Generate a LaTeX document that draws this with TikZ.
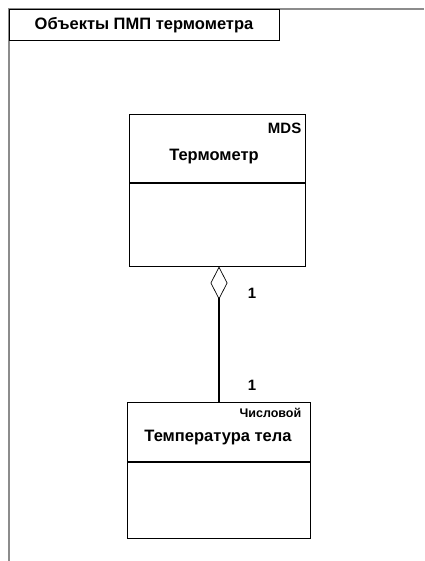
\documentclass[tikz,border=0pt]{standalone}
\usepackage{fontspec}
\setmainfont{Liberation Sans}
\usetikzlibrary{positioning,arrows.meta}
\definecolor{cFrame}{HTML}{8C8C8C}
\tikzset{
  clshead/.style={draw, line width=1pt, minimum width=176pt, inner sep=0pt},
  clsbody/.style={draw, line width=1pt, minimum width=176pt, inner sep=0pt},
  nm/.style={font=\bfseries\fontsize{16.5}{18}\selectfont, inner sep=0pt},
  stereo/.style={font=\bfseries\fontsize{12.5}{14}\selectfont, inner sep=0pt},
  mult/.style={font=\bfseries\fontsize{15}{17}\selectfont, inner sep=0pt},
  agg/.style={{Diamond[open, length=33pt, width=17pt, line width=0.7pt]}-, line width=1.8pt},
}
\begin{document}
\begin{tikzpicture}[x=1pt, y=-1pt]
    \useasboundingbox (0,0) rectangle (424,561);
    % --- frame ---
    \coordinate (fl) at (9,9);
    \coordinate (fr) at (424,9);
    \coordinate (fb) at (9,561);
    \draw[cFrame, line width=1.2pt] (fr) -- (fl) -- (fb);
    \node[draw, line width=1pt, minimum width=270pt, minimum height=31pt, inner sep=0pt,
          font=\bfseries\fontsize{16.5}{18}\selectfont] (tab) at (144,25.5) {Объекты ПМП термометра};

    % --- classes ---
    \node[clshead, minimum height=68pt] (thermHead) at (217,149) {};
    \node[clsbody, minimum height=82pt, below=0pt of thermHead] (thermBody) {};
    \node[stereo, font=\bfseries\fontsize{15}{17}\selectfont, anchor=north east] (mds)
      at ([xshift=-4pt, yshift=-8pt]thermHead.north east) {MDS};
    \node[nm] (therm) at (214,157) {Термометр};

    \node[clshead, minimum width=183pt, minimum height=59pt] (tempHead) at (218.5,431.5) {};
    \node[clsbody, minimum width=183pt, minimum height=76pt, below=0pt of tempHead] (tempBody) {};
    \node[stereo, anchor=north east] (num) at ([xshift=-9pt, yshift=-6pt]tempHead.north east) {Числовой};
    \node[nm] (temp) at (218,438) {Температура тела};

    % --- aggregation ---
    \draw[agg] ([xshift=2pt]thermBody.south) -- ([xshift=0.5pt]tempHead.north);
    \node[mult] (m1) at (252,293) {1};
    \node[mult] (m2) at (252,385) {1};
\end{tikzpicture}
\end{document}
